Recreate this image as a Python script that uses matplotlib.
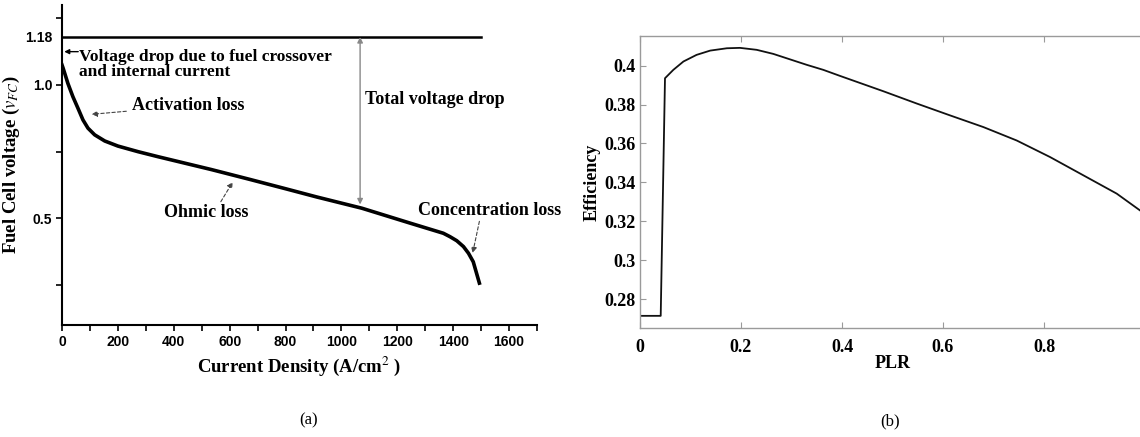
import matplotlib
matplotlib.use("Agg")
import matplotlib.pyplot as plt

# panel (a): polarization curve
current_density = [0, 4, 21, 39, 57, 75, 93, 117, 153, 200, 272, 344, 439, 534,
                   672, 800, 912, 1073, 1246, 1365, 1389, 1413, 1437, 1455, 1472, 1494]
cell_voltage = [1.075, 1.063, 1.006, 0.956, 0.913, 0.869, 0.838, 0.813, 0.790, 0.771, 0.750, 0.731, 0.707, 0.683,
                0.646, 0.611, 0.580, 0.538, 0.482, 0.444, 0.431, 0.416, 0.394, 0.369, 0.337, 0.257]
open_circuit_v = 1.18
ocv_span = [0, 1500]
a_xticks = [0, 200, 400, 600, 800, 1000, 1200, 1400, 1600]
a_yticks = [0.25, 0.5, 0.75, 1.0, 1.18, 1.25]
a_yticklabels = ['', '0.5', '', '1.0', '1.18', '']

# panel (b): efficiency vs part load ratio
plr = [0, 0.041, 0.0495, 0.066, 0.086, 0.112, 0.139, 0.172, 0.198, 0.231, 0.264, 0.297, 0.330, 0.363, 0.396,
       0.482, 0.548, 0.614, 0.680, 0.746, 0.812, 0.878, 0.944, 0.990]
efficiency = [0.2714, 0.2714, 0.3935, 0.3978, 0.4021, 0.4055, 0.4077, 0.4089, 0.4091, 0.4081, 0.4060, 0.4032,
              0.4004, 0.3978, 0.3947, 0.3868, 0.3805, 0.3744, 0.3684, 0.3615, 0.3530, 0.3436, 0.3342, 0.3256]
b_xticks = [0, 0.2, 0.4, 0.6, 0.8, 1.0]
b_xticklabels = ['0', '0.2', '0.4', '0.6', '0.8', '']
b_yticks = [0.28, 0.30, 0.32, 0.34, 0.36, 0.38, 0.40]
b_yticklabels = ['0.28', '0.3', '0.32', '0.34', '0.36', '0.38', '0.4']

plt.rcParams['mathtext.fontset'] = 'stix'
serif = 'Liberation Serif'
sans = 'Liberation Sans'

fig = plt.figure(figsize=(11.4, 4.37), dpi=100)

# ---------------- (a) ----------------
ax1 = fig.add_axes([0.0544, 0.2563, 0.4166, 0.7323])
ax1.plot(current_density, cell_voltage, color='black', lw=2.6, solid_joinstyle='round')
ax1.plot(ocv_span, [open_circuit_v, open_circuit_v], color='black', lw=1.8)
ax1.set_xlim(0, 1700)
ax1.set_ylim(0.1, 1.3)
ax1.spines['top'].set_visible(False)
ax1.spines['right'].set_visible(False)
for s in ['left', 'bottom']:
    ax1.spines[s].set_linewidth(1.5)
ax1.set_xticks(a_xticks)
ax1.set_xticks(range(100, 1701, 200), minor=True)
ax1.set_yticks(a_yticks)
ax1.set_yticklabels(a_yticklabels)
ax1.yaxis.get_major_ticks()[4].tick1line.set_visible(False)
ax1.tick_params(which='both', direction='out', length=4, width=1.2, pad=3)
for lab in ax1.get_xticklabels() + ax1.get_yticklabels():
    lab.set_fontfamily(sans)
    lab.set_fontweight('bold')
    lab.set_fontsize(10)
ax1.set_xlabel('Current Density (A/cm$^{2}$ )', fontfamily=serif, fontweight='bold', fontsize=13.5, labelpad=4)
ax1.set_ylabel(r'Fuel Cell voltage ($\mathit{v}_{FC}$)', fontfamily=serif, fontweight='bold', fontsize=13.5, labelpad=2)

tfont = dict(fontfamily=serif, fontweight='bold', fontsize=13)
dash_arrow = dict(arrowstyle='-|>', color='#444444', lw=0.8, linestyle=(0, (3, 2)), mutation_scale=8, shrinkA=0, shrinkB=0)

ax1.annotate('', xy=(8, 1.125), xytext=(58, 1.125),
             arrowprops=dict(arrowstyle='-|>', color='black', lw=1.0, mutation_scale=7, shrinkA=0, shrinkB=0))
ax1.text(62, 1.076, 'Voltage drop due to fuel crossover\nand internal current', ha='left', va='center',
         linespacing=0.92, fontfamily=serif, fontweight='bold', fontsize=12.5)
ax1.annotate('', xy=(1067, 1.18), xytext=(1067, 0.552),
             arrowprops=dict(arrowstyle='<|-|>', color='#888888', lw=1.0, mutation_scale=8, shrinkA=0, shrinkB=0))
ax1.text(1086, 0.944, 'Total voltage drop', ha='left', va='center', **tfont)
ax1.annotate('Activation loss', xy=(106, 0.89), xytext=(250, 0.922), ha='left', va='center',
             arrowprops=dict(dash_arrow, shrinkA=2), **tfont)
ax1.annotate('Ohmic loss', xy=(611, 0.636), xytext=(517, 0.52), ha='center', va='center',
             arrowprops=dict(dash_arrow, relpos=(0.65, 1.0)), **tfont)
ax1.annotate('Concentration loss', xy=(1470, 0.37), xytext=(1532, 0.531), ha='center', va='center',
             annotation_clip=False, arrowprops=dict(dash_arrow, relpos=(0.43, 0.0)), **tfont)

fig.text(309 / 1140, 1 - 420 / 437, '(a)', ha='center', va='center', fontfamily=serif, fontsize=12)

# ---------------- (b) ----------------
ax2 = fig.add_axes([640 / 1140, 1 - 328.3 / 437, 505 / 1140, (328.3 - 36) / 437])
ax2.plot(plr, efficiency, color='#111111', lw=1.3)
ax2.set_xlim(0, 1.0)
ax2.set_ylim(0.265, 0.4152)
for s in ax2.spines.values():
    s.set_color('#9a9a9a')
    s.set_linewidth(1.0)
ax2.set_xticks(b_xticks)
ax2.set_xticklabels(b_xticklabels)
ax2.set_yticks(b_yticks)
ax2.set_yticklabels(b_yticklabels)
ax2.tick_params(direction='in', length=4, width=0.8, color='#9a9a9a', top=True)
ax2.tick_params(axis='x', pad=8)
ax2.tick_params(axis='y', pad=3)
for lab in ax2.get_xticklabels() + ax2.get_yticklabels():
    lab.set_fontfamily(serif)
    lab.set_fontweight('bold')
    lab.set_fontsize(13)
ax2.set_xlabel('PLR', fontfamily=serif, fontweight='bold', fontsize=13, labelpad=-1)
ax2.set_ylabel('Efficiency', fontfamily=serif, fontweight='bold', fontsize=13, labelpad=3)

fig.text(890 / 1140, 1 - 421.7 / 437, '(b)', ha='center', va='center', fontfamily=serif, fontsize=12)

fig.savefig('out.png', dpi=100)
